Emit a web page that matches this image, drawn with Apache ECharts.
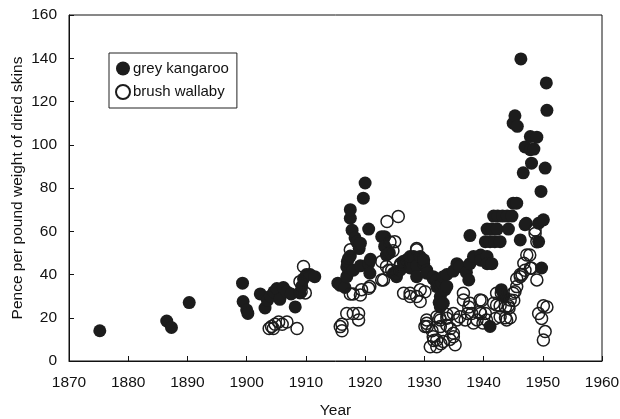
<!DOCTYPE html>
<html>
<head>
<meta charset="utf-8">
<script src="https://cdn.jsdelivr.net/npm/echarts@6/dist/echarts.min.js"></script>
<style>
  html, body { margin: 0; padding: 0; background: #fff; }
  #chart { width: 620px; height: 419px; }
</style>
</head>
<body>
<div id="chart"></div>
<script>
// grey kangaroo (filled) - year / pence per lb
var kangarooYear = [1875.2, 1886.5, 1887.3, 1890.3, 1899.3, 1899.4, 1900, 1900.2, 1902.3, 1903.1,
  1903.5, 1904, 1904.6, 1905.1, 1905.6, 1906.2, 1906.8, 1907.5, 1908.2, 1909,
  1909.3, 1909.6, 1910.1, 1910.7, 1911.5, 1915.4, 1915.8, 1916.6, 1916.9, 1916.9,
  1917, 1917.2, 1917.5, 1917.5, 1917.5, 1917.8, 1918, 1918.3, 1918.6, 1919,
  1919.2, 1919.2, 1919.7, 1920, 1920.6, 1920.6, 1920.8, 1920.9, 1922.8, 1923.3,
  1923.3, 1923.6, 1924.1, 1924.8, 1925.3, 1925.3, 1925.9, 1926.4, 1927, 1927.6,
  1927.6, 1928.2, 1928.7, 1928.7, 1929.3, 1929.9, 1929.9, 1930.4, 1930.4, 1931.5,
  1931.5, 1932.1, 1932.1, 1932.7, 1932.7, 1932.5, 1932.7, 1933, 1933.2, 1933.2,
  1933.5, 1933.8, 1933.8, 1934.9, 1935.5, 1936, 1937.1, 1937.5, 1937.7, 1937.7,
  1938.3, 1939.5, 1939.5, 1940.3, 1940.6, 1940.6, 1940.6, 1941.1, 1941.1, 1941.4,
  1941.4, 1941.7, 1941.9, 1942.3, 1942.4, 1942.8, 1943.2, 1943.4, 1943, 1944,
  1944.2, 1944.8, 1945, 1945, 1945.3, 1945.6, 1945.7, 1946.2, 1946.3, 1946.7,
  1947, 1947, 1947.2, 1947.9, 1947.9, 1948.1, 1948.5, 1949, 1949.3, 1949.3,
  1949.7, 1949.8, 1950.1, 1950.4, 1950.6, 1950.7]
var kangarooPrice = [14, 18.5, 15.5, 27, 36, 27.5, 23.6, 22, 31, 24.5,
  28, 30, 32, 33.5, 28.5, 34, 32, 31, 25, 31.5,
  34.5, 38, 40, 40, 39, 36, 35, 34, 39, 43.5,
  46, 47.5, 48.5, 66, 70, 60.5, 42, 57, 55, 52,
  44, 54.5, 75.3, 82.3, 61, 45, 40.6, 47, 57.5, 57.5,
  53, 49, 50, 40.6, 39, 40.6, 42, 46, 46.8, 43,
  48.3, 48.3, 44, 39, 48.3, 45, 46.8, 42, 40.6, 38,
  39, 37.5, 34.4, 35, 29.8, 27, 25, 36, 39, 26.7,
  33, 40, 34.5, 41.6, 45, 43.7, 41, 37.5, 45, 58,
  48.3, 49, 46.6, 55.2, 48.3, 45, 61, 55.2, 16, 45,
  61, 67, 55.2, 61, 67, 55.2, 67, 30, 33, 67,
  61, 67, 73, 110, 113.4, 73, 108.5, 56, 139.7, 87,
  99, 63, 63.7, 97.7, 103.8, 91.5, 98, 103.5, 63.7, 55.2,
  78.4, 43, 65.3, 89.2, 128.6, 115.9]

// brush wallaby (open)
var wallabyYear = [1903.8, 1904.2, 1904.5, 1904.8, 1905.4, 1906, 1906.8, 1908.5, 1909, 1909.2,
  1909.6, 1909.9, 1915.8, 1916.1, 1916.1, 1916.9, 1917.5, 1917.5, 1918, 1918,
  1918.9, 1918.9, 1919.2, 1919.4, 1920.6, 1920.8, 1922.8, 1922.8, 1923.1, 1923.6,
  1923.7, 1924, 1924.2, 1924.5, 1924.7, 1925, 1925.6, 1925.9, 1926, 1926.5,
  1927.6, 1927.6, 1928.7, 1928.7, 1928.7, 1929.3, 1929.3, 1930.1, 1930.1, 1930.4,
  1930.4, 1930.5, 1931, 1931.3, 1931.5, 1931.6, 1932.1, 1932.1, 1932.1, 1932.6,
  1932.7, 1932.7, 1932.8, 1933.2, 1933.8, 1933.8, 1933.8, 1934.3, 1934.4, 1934.9,
  1934.9, 1934.9, 1935.2, 1935.5, 1936, 1936.6, 1936.6, 1936.9, 1937.3, 1937.5,
  1937.7, 1938, 1938.3, 1938.9, 1939.4, 1939.4, 1939.5, 1939.7, 1939.9, 1940.3,
  1940.5, 1941.7, 1942, 1942.2, 1942.2, 1942.8, 1942.8, 1943, 1943.7, 1943.7,
  1943.9, 1944.2, 1944.3, 1944.5, 1944.5, 1945, 1945.1, 1945.3, 1945.6, 1945.6,
  1946.2, 1946.2, 1946.5, 1946.8, 1947, 1947.3, 1947.8, 1947.9, 1948.1, 1948.7,
  1948.7, 1949, 1949, 1949.3, 1949.8, 1950.1, 1950.1, 1950.4, 1950.7]
var wallabyPrice = [15, 16, 15, 17, 18, 17, 18, 15, 36.7, 32,
  43.7, 31.5, 15.9, 14, 17, 22, 31, 51.4, 22, 31,
  19, 22, 30.5, 33, 33.6, 34.4, 37.5, 46, 37.5, 43.7,
  64.5, 42, 55, 42, 51, 55.2, 66.8, 44, 45, 31.3,
  31.3, 29.8, 29.8, 51.4, 52, 32.9, 27.5, 32, 16, 19,
  17.4, 16, 6.6, 14, 11.2, 9.5, 20.5, 6.6, 9.7, 20,
  19, 15.9, 8, 9, 19.8, 16.5, 21.5, 10, 15, 11.2,
  12.8, 22, 7.5, 19, 20.5, 31.3, 28.2, 19, 22, 25,
  26.7, 22, 17.6, 19, 22.8, 28.2, 22, 28, 17.6, 22,
  19, 26.7, 19.7, 31.3, 25.9, 20.5, 25.5, 31.3, 25, 20,
  19, 25.5, 24.5, 20, 28.2, 31.3, 28, 32, 34.4, 38,
  39, 40, 40, 45.2, 42, 49, 49, 43, 42.9, 59,
  60.6, 55.2, 37.5, 22, 19.7, 25.5, 9.7, 13.6, 25]

function pairs(xs, ys) {
  return xs.map(function (x, i) { return [x, ys[i]] })
}

var chart = echarts.init(document.getElementById('chart'))

var labelStyle = { color: '#111', fontFamily: 'Liberation Sans, Arial, sans-serif', fontSize: 15.5 }

chart.setOption({
  animation: false,
  grid: {
    left: 69, right: 18, top: 15, bottom: 58,
    outerBoundsMode: 'none', containLabel: false,
    show: true, borderColor: '#111', borderWidth: 1
  },
  legend: {
    orient: 'vertical',
    left: 109, top: 53,
    padding: [8, 8, 8, 6],
    itemGap: 8,
    itemWidth: 14, itemHeight: 14,
    borderColor: '#222', borderWidth: 1,
    textStyle: { color: '#111', fontFamily: 'Liberation Sans, Arial, sans-serif', fontSize: 15, padding: [0, 0, 0, -2] },
    data: [
      { name: 'grey kangaroo', icon: 'circle' },
      { name: 'brush wallaby', icon: 'circle' }
    ]
  },
  xAxis: {
    type: 'value', min: 1870, max: 1960, interval: 10,
    name: 'Year', nameLocation: 'middle', nameGap: 42, nameMoveOverlap: false,
    nameTextStyle: labelStyle,
    axisLine: { lineStyle: { color: '#111' } },
    axisTick: { inside: true, length: 5, lineStyle: { color: '#111' } },
    axisLabel: Object.assign({ margin: 14, formatter: function (v) { return String(v) } }, labelStyle),
    splitLine: { show: false }
  },
  yAxis: {
    type: 'value', min: 0, max: 160, interval: 20,
    name: 'Pence per pound weight of dried skins', nameLocation: 'middle', nameGap: 43, nameMoveOverlap: false,
    nameTextStyle: labelStyle,
    axisLine: { show: true, lineStyle: { color: '#111' } },
    axisTick: { show: true, inside: true, length: 5, lineStyle: { color: '#111' } },
    axisLabel: Object.assign({ margin: 12 }, labelStyle),
    splitLine: { show: false }
  },
  series: [
    {
      name: 'grey kangaroo', type: 'scatter', symbol: 'circle', symbolSize: 13,
      itemStyle: { color: '#1c1c1c', opacity: 1 },
      data: pairs(kangarooYear, kangarooPrice)
    },
    {
      name: 'brush wallaby', type: 'scatter', symbol: 'circle', symbolSize: 12,
      itemStyle: { color: 'rgba(255,255,255,0)', borderColor: '#1c1c1c', borderWidth: 1.5, opacity: 1 },
      data: pairs(wallabyYear, wallabyPrice)
    }
  ]
})
</script>
</body>
</html>
